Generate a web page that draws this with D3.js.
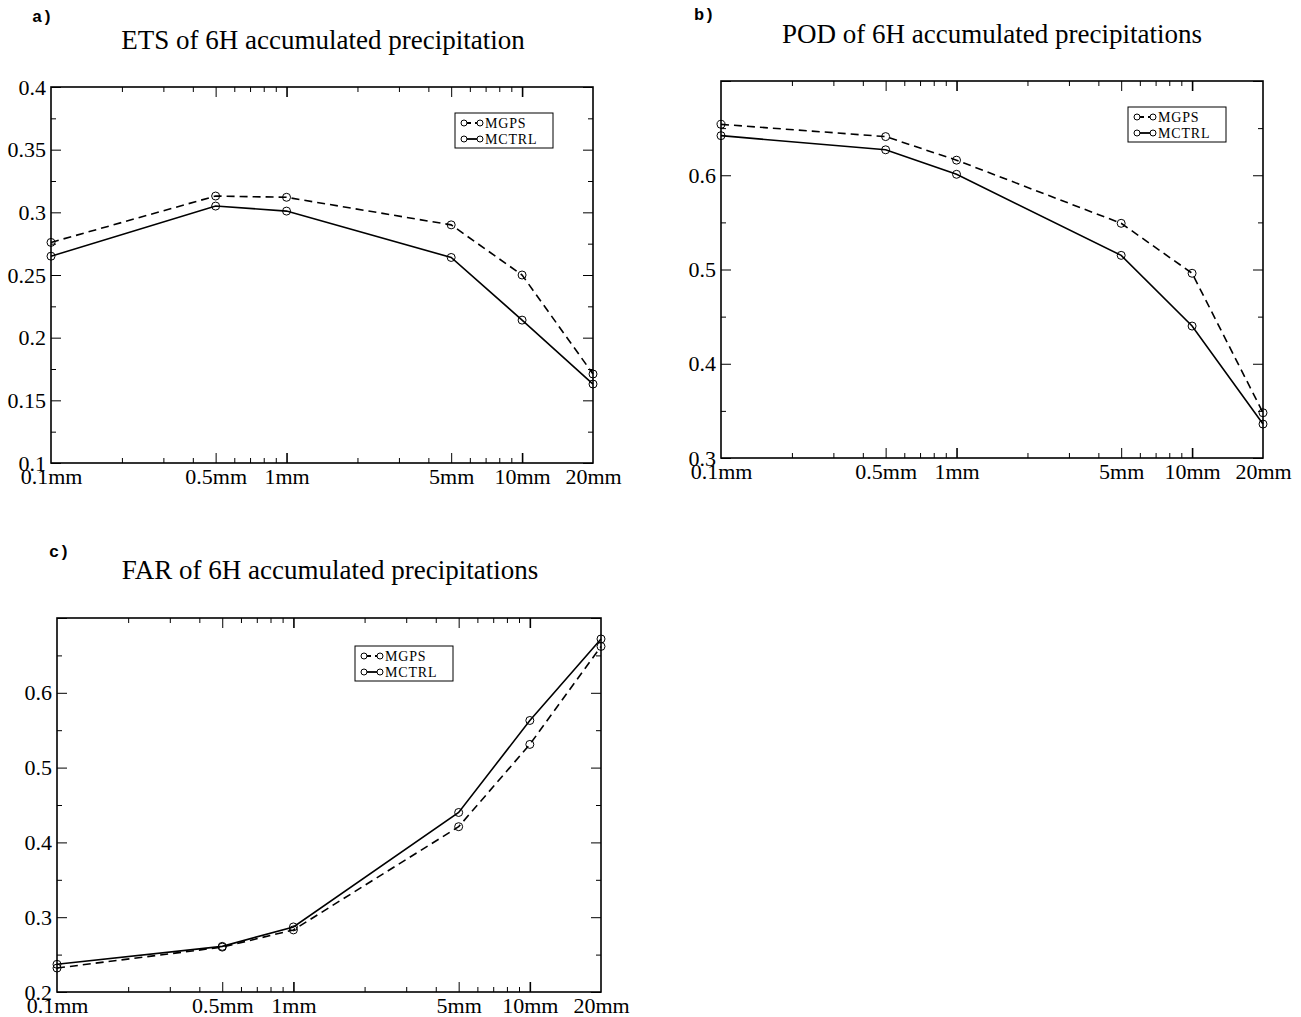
<!DOCTYPE html>
<html>
<head>
<meta charset="utf-8">
<script src="https://cdn.jsdelivr.net/npm/d3@7"></script>
<style>
  body { margin: 0; background: #fff; }
  svg { display: block; }
</style>
</head>
<body>
<div id="chart"></div>
<script>
// precipitation thresholds (mm / 6h)
var thresholds = [0.1, 0.5, 1, 5, 10, 20];
var thresholdLabels = ["0.1mm", "0.5mm", "1mm", "5mm", "10mm", "20mm"];
var seriesNames = ["MGPS", "MCTRL"];

var etsMGPS  = [0.276, 0.313, 0.312, 0.290, 0.250, 0.171];
var etsMCTRL = [0.265, 0.305, 0.301, 0.264, 0.214, 0.163];
var podMGPS  = [0.654, 0.641, 0.616, 0.549, 0.496, 0.348];
var podMCTRL = [0.642, 0.627, 0.601, 0.515, 0.440, 0.336];
var farMGPS  = [0.232, 0.260, 0.283, 0.421, 0.531, 0.662];
var farMCTRL = [0.237, 0.261, 0.287, 0.440, 0.563, 0.672];

var etsTicks = [0.1, 0.15, 0.2, 0.25, 0.3, 0.35, 0.4];
var podTicks = [0.3, 0.4, 0.5, 0.6];
var farTicks = [0.2, 0.3, 0.4, 0.5, 0.6];

var width = 1301, height = 1017;
var serif = "'Liberation Serif', 'Times New Roman', serif";

var svg = d3.select("#chart").append("svg")
  .attr("width", width).attr("height", height);

function panel(opts) {
  var g = svg.append("g");
  var x = d3.scaleLog().domain([0.1, 20]).range([opts.left, opts.right]);
  var y = d3.scaleLinear().domain(opts.yDomain).range([opts.bottom, opts.top]);

  // minor y ticks halfway between labelled ones
  var yMinor = [];
  for (var v = opts.yDomain[0]; v < opts.yDomain[1] - 1e-9; v += opts.yStep) {
    yMinor.push(+(v + opts.yStep / 2).toFixed(4));
  }
  var yMajor = d3.range(opts.yDomain[0], opts.yDomain[1] + 1e-9, opts.yStep).map(function(d) { return +d.toFixed(4); });

  var xSmall = [0.2, 0.3, 0.4, 0.6, 0.7, 0.8, 0.9, 2, 3, 4, 6, 7, 8, 9];
  var xMid = [0.5, 5];
  var xBig = [1, 10];

  function ticks(axisFn, scale, values, size, pos, sw, inward) {
    var a = g.append("g")
      .attr("transform", pos)
      .call(axisFn(scale).tickValues(values).tickSize(size).tickFormat(""));
    a.select(".domain").remove();
    a.selectAll("line").attr("stroke", "#000").attr("stroke-width", sw);
    if (inward) a.selectAll("line").attr("y2", inward * size);
  }

  var tb = "translate(0," + opts.bottom + ")", tt = "translate(0," + opts.top + ")";
  var tl = "translate(" + opts.left + ",0)", tr = "translate(" + opts.right + ",0)";
  [[d3.axisBottom, tb, -1], [d3.axisTop, tt, 1]].forEach(function(s) {
    ticks(s[0], x, xSmall, 5, s[1], 1, s[2]);
    ticks(s[0], x, xMid, 10, s[1], 1, s[2]);
    ticks(s[0], x, xBig, 10, s[1], 1.6, s[2]);
  });

  ticks(d3.axisLeft, y, yMinor, -5, tl, 1);
  ticks(d3.axisLeft, y, yMajor, -10, tl, 1);
  ticks(d3.axisRight, y, yMinor, -5, tr, 1);
  ticks(d3.axisRight, y, yMajor, -10, tr, 1);

  // labels
  var yl = g.append("g").attr("transform", tl)
    .call(d3.axisLeft(y).tickValues(opts.yLabels).tickSize(0).tickPadding(5)
      .tickFormat(function(d) { return String(d); }));
  yl.select(".domain").remove();
  yl.selectAll("text").attr("font-family", serif).attr("font-size", 22).attr("fill", "#000");

  var xl = g.append("g").attr("transform", tb)
    .call(d3.axisBottom(x).tickValues(thresholds).tickSize(0).tickPadding(5)
      .tickFormat(function(d, i) { return thresholdLabels[i]; }));
  xl.select(".domain").remove();
  xl.selectAll("text").attr("font-family", serif).attr("font-size", 22).attr("fill", "#000");

  // frame
  g.append("rect")
    .attr("x", opts.left).attr("y", opts.top)
    .attr("width", opts.right - opts.left).attr("height", opts.bottom - opts.top)
    .attr("fill", "none").attr("stroke", "#000").attr("stroke-width", 1.6);

  var line = d3.line()
    .x(function(d, i) { return x(thresholds[i]); })
    .y(function(d) { return y(d); });

  var series = [
    { name: seriesNames[0], values: opts.mgps, dash: "8,5" },
    { name: seriesNames[1], values: opts.mctrl, dash: null }
  ];

  series.forEach(function(s) {
    g.append("path").datum(s.values)
      .attr("d", line)
      .attr("fill", "none").attr("stroke", "#000").attr("stroke-width", 1.6)
      .attr("stroke-dasharray", s.dash);
    g.selectAll(null).data(s.values).enter().append("circle")
      .attr("cx", function(d, i) { return x(thresholds[i]); })
      .attr("cy", function(d) { return y(d); })
      .attr("r", 4)
      .attr("fill", "none").attr("stroke", "#000").attr("stroke-width", 1);
  });

  // legend
  var lg = g.append("g").attr("transform", "translate(" + opts.legend[0] + "," + opts.legend[1] + ")");
  lg.append("rect").attr("width", 98).attr("height", 35)
    .attr("fill", "#fff").attr("stroke", "#000").attr("stroke-width", 1);
  series.forEach(function(s, i) {
    var cy = 10 + i * 16;
    lg.append("line").attr("x1", 9).attr("x2", 25).attr("y1", cy).attr("y2", cy)
      .attr("stroke", "#000").attr("stroke-width", 1.8).attr("stroke-dasharray", s.dash ? "7,4" : null);
    [9, 25].forEach(function(cx) {
      lg.append("circle").attr("cx", cx).attr("cy", cy).attr("r", 3)
        .attr("fill", "#fff").attr("stroke", "#000").attr("stroke-width", 1);
    });
    lg.append("text").attr("x", 30).attr("y", cy).attr("dy", "0.35em")
      .attr("font-family", serif).attr("font-size", 14).attr("letter-spacing", 0.8)
      .text(s.name);
  });

  // title and panel letter
  g.append("text").attr("x", opts.titleX).attr("y", opts.titleY)
    .attr("text-anchor", "middle").attr("font-family", serif).attr("font-size", 27)
    .text(opts.title);
  g.append("text").attr("x", opts.tagX).attr("y", opts.tagY)
    .attr("font-family", "'Liberation Mono', 'DejaVu Sans Mono', monospace")
    .attr("font-weight", "bold").attr("font-size", 17)
    .text(opts.tag);
}

panel({
  left: 51, right: 593, top: 87, bottom: 463,
  yDomain: [0.1, 0.4], yStep: 0.05, yLabels: etsTicks,
  mgps: etsMGPS, mctrl: etsMCTRL,
  legend: [455, 113],
  title: "ETS of 6H accumulated precipitation", titleX: 323, titleY: 49,
  tag: "a)", tagX: 32, tagY: 22
});

panel({
  left: 721, right: 1263, top: 81, bottom: 458,
  yDomain: [0.3, 0.7], yStep: 0.1, yLabels: podTicks,
  mgps: podMGPS, mctrl: podMCTRL,
  legend: [1128, 107],
  title: "POD of 6H accumulated precipitations", titleX: 992, titleY: 43,
  tag: "b)", tagX: 694, tagY: 20
});

panel({
  left: 57, right: 601, top: 618, bottom: 992,
  yDomain: [0.2, 0.7], yStep: 0.1, yLabels: farTicks,
  mgps: farMGPS, mctrl: farMCTRL,
  legend: [355, 646],
  title: "FAR of 6H accumulated precipitations", titleX: 330, titleY: 579,
  tag: "c)", tagX: 49, tagY: 557
});
</script>
</body>
</html>
